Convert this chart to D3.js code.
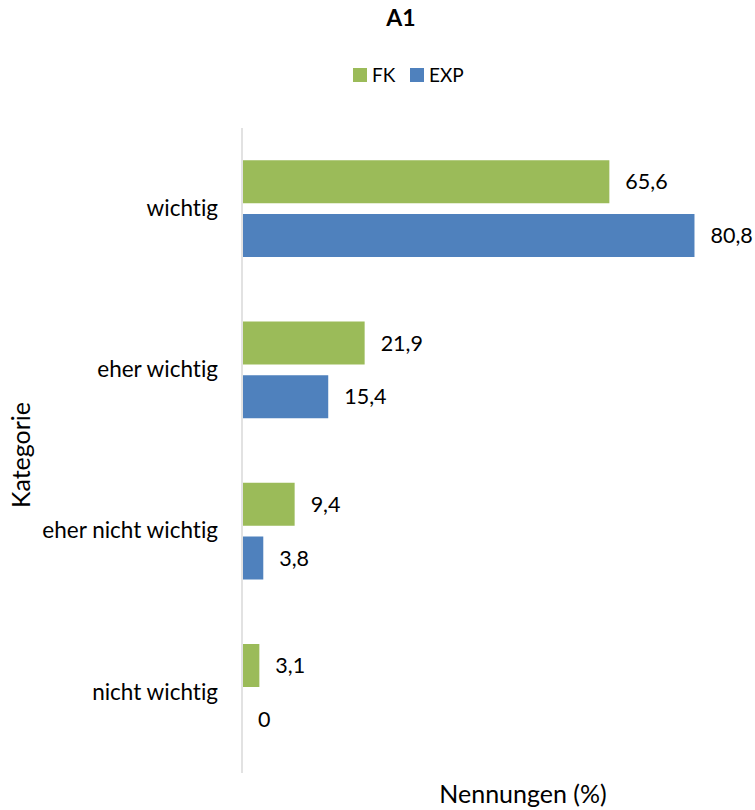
<!DOCTYPE html>
<html>
<head>
<meta charset="utf-8">
<script src="https://cdn.jsdelivr.net/npm/d3@7"></script>
<style>
  body { margin: 0; background: #fff; }
  svg text { font-family: Lato, "Liberation Sans", sans-serif; fill: #000; font-variant-ligatures: none; }
</style>
</head>
<body>
<svg id="chart"></svg>
<script>
// chart data
const categories = ['wichtig', 'eher wichtig', 'eher nicht wichtig', 'nicht wichtig'];
const seriesNames = ['FK', 'EXP'];
const fkValues = [65.6, 21.9, 9.4, 3.1];
const expValues = [80.8, 15.4, 3.8, 0];
const seriesColors = ['#9bbb59', '#4f81bd'];

const config = {
    width: 755,
    height: 810,
    margin: { top: 128, right: 9, bottom: 37, left: 242 }
};

const svg = d3.select('#chart')
    .attr('width', config.width)
    .attr('height', config.height);

const innerW = config.width - config.margin.left - config.margin.right;
const innerH = config.height - config.margin.top - config.margin.bottom;

const rows = categories.map((c, i) => ({
    category: c,
    values: [
        { series: seriesNames[0], value: fkValues[i], color: seriesColors[0] },
        { series: seriesNames[1], value: expValues[i], color: seriesColors[1] }
    ]
}));

// scales
const xScale = d3.scaleLinear()
    .domain([0, 90])
    .range([0, innerW]);

const yScale = d3.scaleBand()
    .domain(categories)
    .range([0, innerH])
    .paddingInner(0.4)
    .paddingOuter(0.2);

const ySub = d3.scaleBand()
    .domain(seriesNames)
    .range([0, yScale.bandwidth()])
    .paddingInner(0.2);

const chart = svg.append('g')
    .attr('transform', `translate(${config.margin.left},${config.margin.top})`);

// bars
const groups = chart.selectAll('.group')
    .data(rows)
    .join('g')
    .attr('class', 'group')
    .attr('transform', d => `translate(0,${yScale(d.category)})`);

groups.selectAll('rect')
    .data(d => d.values)
    .join('rect')
    .attr('x', 1)
    .attr('y', d => ySub(d.series))
    .attr('width', d => Math.max(0, xScale(d.value) - 1))
    .attr('height', ySub.bandwidth())
    .attr('fill', d => d.color);

// value labels
groups.selectAll('.val')
    .data(d => d.values)
    .join('text')
    .attr('class', 'val')
    .attr('x', d => xScale(d.value) + 16)
    .attr('y', d => ySub(d.series) + ySub.bandwidth() / 2)
    .attr('dy', '0.35em')
    .style('font-size', '21.5px')
    .text(d => String(d.value).replace('.', ','));

// y axis (labels only, the line is drawn below)
const yAxis = d3.axisLeft(yScale).tickSize(0).tickPadding(24);
const yAxisGroup = chart.append('g').call(yAxis);
yAxisGroup.select('.domain').remove();
yAxisGroup.selectAll('text')
    .style('font-size', '22.5px')
    .attr('font-family', null);

chart.append('line')
    .attr('x1', 0).attr('x2', 0)
    .attr('y1', 0).attr('y2', innerH)
    .attr('stroke', '#d9d9d9')
    .attr('stroke-width', 1.5);

// title
svg.append('text')
    .attr('x', 401)
    .attr('y', 26)
    .attr('text-anchor', 'middle')
    .style('font-size', '23px')
    .style('font-weight', 'bold')
    .text('A1');

// legend
const legend = svg.append('g')
    .attr('transform', 'translate(353,68)');
const legendX = [0, 57];
legend.selectAll('rect')
    .data(seriesNames)
    .join('rect')
    .attr('x', (d, i) => legendX[i])
    .attr('y', 0)
    .attr('width', 14)
    .attr('height', 14)
    .attr('fill', (d, i) => seriesColors[i]);
legend.selectAll('text')
    .data(seriesNames)
    .join('text')
    .attr('x', (d, i) => legendX[i] + 19)
    .attr('y', 7)
    .attr('dy', '0.35em')
    .style('font-size', '19px')
    .text(d => d);

// axis titles
svg.append('text')
    .attr('x', 523)
    .attr('y', 803)
    .attr('text-anchor', 'middle')
    .style('font-size', '25px')
    .text('Nennungen (%)');

svg.append('text')
    .attr('transform', 'translate(30,455) rotate(-90)')
    .attr('text-anchor', 'middle')
    .style('font-size', '25px')
    .text('Kategorie');
</script>
</body>
</html>
